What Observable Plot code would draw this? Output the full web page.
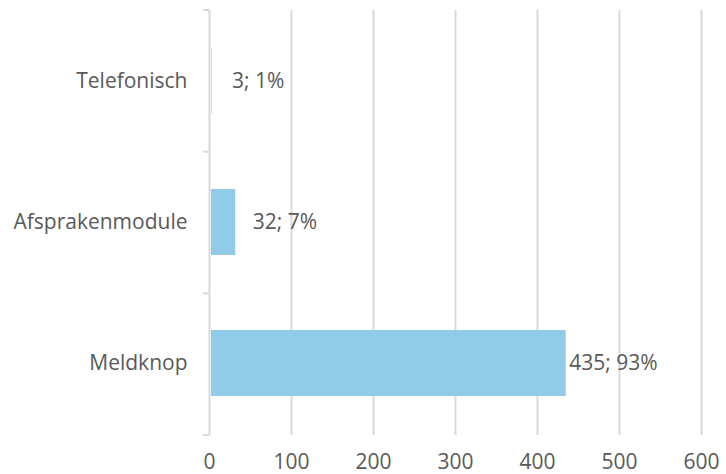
<!DOCTYPE html>
<html>
<head>
<meta charset="utf-8">
<script src="https://cdn.jsdelivr.net/npm/d3@7"></script>
<script src="https://cdn.jsdelivr.net/npm/@observablehq/plot@0.6"></script>
<style>
  html, body { margin: 0; padding: 0; background: #fff; }
  svg { display: block; }
</style>
</head>
<body>
<div id="chart"></div>
<script>
const categories = ["Telefonisch", "Afsprakenmodule", "Meldknop"];
const values = [3, 32, 435];
const percents = [1, 7, 93];
const xTicks = [0, 100, 200, 300, 400, 500, 600];

const data = categories.map((c, i) => ({
  category: c,
  value: values[i],
  label: `${values[i]}; ${percents[i]}%`
}));

const labelDx = {Telefonisch: 20, Afsprakenmodule: 17, Meldknop: 3};

const W = 726, H = 474;
const mTop = 10, mBottom = 39, mLeft = 209, mRight = 25;
const textColor = "#595959";
const gridColor = "#d9d9d9";

const bandTicks = (index, scales, values, dims) => {
  const g = d3.create("svg:g");
  const n = categories.length;
  const ph = dims.height - dims.marginTop - dims.marginBottom;
  const x0 = scales.x(0);
  for (let i = 0; i <= n; i++) {
    const y = dims.marginTop + i * ph / n;
    g.append("line")
      .attr("x1", x0 - 6).attr("x2", x0)
      .attr("y1", y).attr("y2", y)
      .attr("stroke", gridColor).attr("stroke-width", 2);
  }
  return g.node();
};

const chart = Plot.plot({
  width: W,
  height: H,
  marginTop: mTop,
  marginBottom: mBottom,
  marginLeft: mLeft,
  marginRight: mRight,
  style: {fontFamily: "'Open Sans', sans-serif", color: textColor, background: "#fff"},
  x: {domain: [0, 600]},
  y: {domain: categories, paddingInner: 0.53, paddingOuter: 0.265},
  marks: [
    Plot.ruleX(xTicks, {stroke: gridColor, strokeWidth: 2}),
    bandTicks,
    Plot.barX(data, {x: "value", y: "category", fill: "#92cbe7", insetLeft: 2}),
    ...categories.map(c => Plot.text(data.filter(d => d.category === c), {
      x: "value", y: "category", text: "label",
      textAnchor: "start", dx: labelDx[c], fill: textColor, fontSize: 21
    })),
    Plot.axisX({ticks: xTicks, tickSize: 0, tickPadding: 19, fontSize: 21, tickFormat: d => String(d), label: null, fill: textColor}),
    Plot.axisY({tickSize: 0, tickPadding: 22, fontSize: 21, label: null, fill: textColor})
  ]
});

document.getElementById("chart").appendChild(chart);
</script>
</body>
</html>
